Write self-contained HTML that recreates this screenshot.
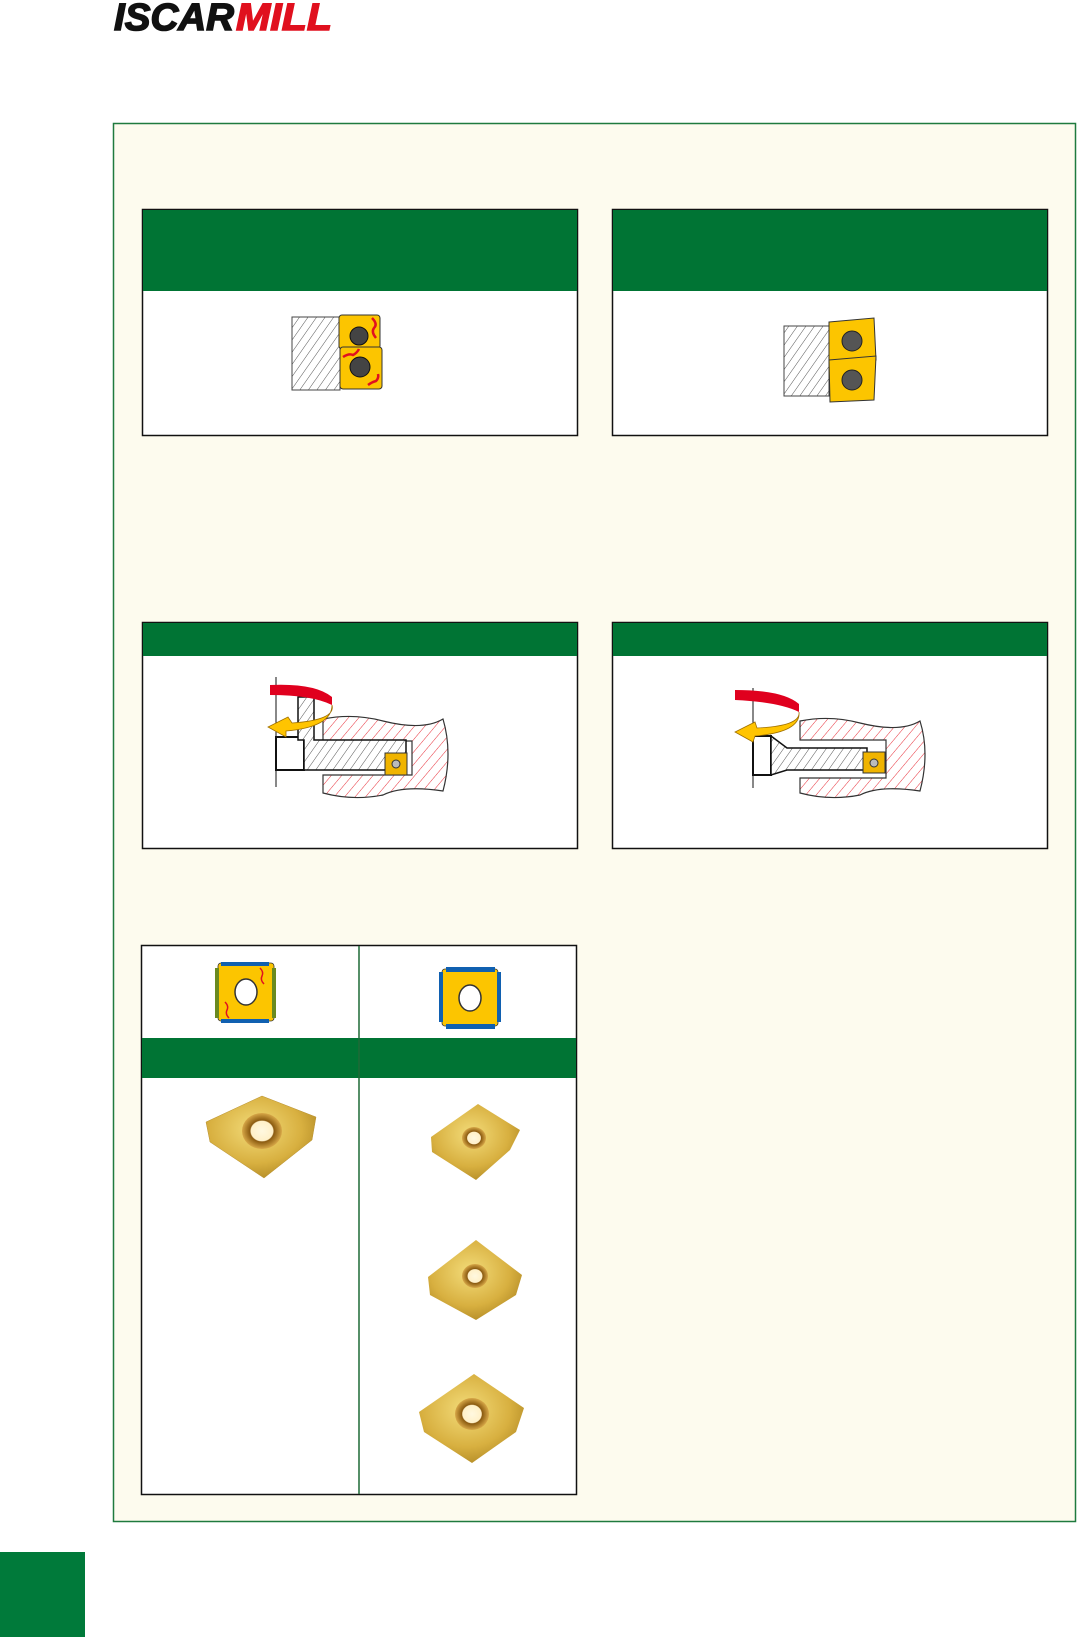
<!DOCTYPE html>
<html><head><meta charset="utf-8"><style>
html,body{margin:0;padding:0;background:#fff;}
svg{display:block;}
</style></head><body>
<svg width="1077" height="1637" viewBox="0 0 1077 1637" xmlns="http://www.w3.org/2000/svg">
<defs>
<pattern id="hk" width="7" height="7" patternUnits="userSpaceOnUse" patternTransform="rotate(35)">
<rect width="7" height="7" fill="#fff"/><line x1="0" y1="0" x2="0" y2="7" stroke="#555" stroke-width="1"/></pattern>
<pattern id="hr" width="8" height="8" patternUnits="userSpaceOnUse" patternTransform="rotate(40)">
<rect width="8" height="8" fill="#fff"/><line x1="0" y1="0" x2="0" y2="8" stroke="#e8303a" stroke-width="1"/></pattern>
<radialGradient id="gold" cx="0.45" cy="0.4" r="0.7">
<stop offset="0" stop-color="#f3dc7a"/><stop offset="0.6" stop-color="#d8b040"/><stop offset="1" stop-color="#a8801e"/></radialGradient>
<radialGradient id="hole" cx="0.5" cy="0.5" r="0.5">
<stop offset="0" stop-color="#fff8e0"/><stop offset="0.55" stop-color="#fff0c8"/><stop offset="0.6" stop-color="#8a5a10"/><stop offset="1" stop-color="#d8a848"/></radialGradient>
</defs>

<!-- logo -->
<text x="114" y="30" font-family="Liberation Sans, sans-serif" font-weight="bold" font-style="italic" font-size="38" fill="#111" stroke="#111" stroke-width="1.5" textLength="120" lengthAdjust="spacingAndGlyphs">ISCAR</text>
<text x="236" y="30" font-family="Liberation Sans, sans-serif" font-weight="bold" font-style="italic" font-size="38" fill="#e0101e" stroke="#e0101e" stroke-width="1.5" textLength="96" lengthAdjust="spacingAndGlyphs">MILL</text>

<!-- outer box -->
<rect x="113.5" y="123.5" width="962" height="1398" fill="#fdfbee" stroke="#1f7a3e" stroke-width="1.5"/>

<!-- box1 -->
<rect x="142.5" y="209.5" width="435" height="226" fill="#fff" stroke="#111" stroke-width="1.5"/>
<rect x="143" y="210" width="434" height="81" fill="#007434"/>
<rect x="292" y="317" width="48" height="73" fill="url(#hk)" stroke="#444" stroke-width="1"/>
<rect x="339" y="315" width="41" height="34" rx="3" fill="#fcc500" stroke="#333" stroke-width="1"/>
<rect x="340" y="347" width="42" height="42" rx="3" fill="#fcc500" stroke="#333" stroke-width="1"/>
<circle cx="359" cy="336" r="9" fill="#444" stroke="#111"/><circle cx="360" cy="367" r="10" fill="#444" stroke="#111"/>
<path d="M372 318 q6 6 2 10 q-3 4 2 10" stroke="#e01020" stroke-width="2.5" fill="none"/>
<path d="M343 357 q6 -4 10 -2 q4 -2 6 -6" stroke="#e01020" stroke-width="2.5" fill="none"/>
<path d="M368 385 q4 -3 8 -4 q3 -3 2 -7" stroke="#e01020" stroke-width="2.5" fill="none"/>

<!-- box2 -->
<rect x="612.5" y="209.5" width="435" height="226" fill="#fff" stroke="#111" stroke-width="1.5"/>
<rect x="613" y="210" width="434" height="81" fill="#007434"/>
<rect x="784" y="326" width="45" height="70" fill="url(#hk)" stroke="#444" stroke-width="1"/>
<polygon points="829,322 874,318 876,360 829,364" fill="#fcc500" stroke="#333"/>
<polygon points="829,360 876,356 874,400 830,402" fill="#fcc500" stroke="#333"/>
<circle cx="852" cy="341" r="10" fill="#555" stroke="#222"/><circle cx="852" cy="380" r="10" fill="#555" stroke="#222"/>

<!-- box3 -->
<rect x="142.5" y="622.5" width="435" height="226" fill="#fff" stroke="#111" stroke-width="1.5"/>
<rect x="143" y="623" width="434" height="33" fill="#007434"/>
<path d="M323 719 q30 -6 60 2 q40 10 60 -2 q10 34 0 72 q-40 -6 -60 4 q-30 6 -60 -2 L323 775 L412 775 L412 741 L323 741 Z" fill="url(#hr)" stroke="#333" stroke-width="1.2"/>
<rect x="276" y="737" width="28" height="33" fill="#fff" stroke="#111" stroke-width="2"/>
<path d="M298 697 h16 v43 h92 v30 h-102 v-30 h-6 z" fill="url(#hk)" stroke="#111" stroke-width="1.5"/>
<rect x="385" y="753" width="22" height="22" fill="#f0b400" stroke="#333"/>
<circle cx="396" cy="764" r="4" fill="#bbb" stroke="#333"/>
<line x1="276" y1="677" x2="276" y2="787" stroke="#111"/>
<path d="M270 685 q45 -2 62 12 l0 8 q-20 -10 -62 -10 z" fill="#e0001e"/>
<path d="M332 705 q4 15 -40 18 l-4 -6 l-20 10 l18 10 l0 -6 q46 -4 46 -26 z" fill="#ffc400" stroke="#a07000" stroke-width="0.8"/>

<!-- box4 -->
<rect x="612.5" y="622.5" width="435" height="226" fill="#fff" stroke="#111" stroke-width="1.5"/>
<rect x="613" y="623" width="434" height="33" fill="#007434"/>
<path d="M800 721 q30 -6 60 2 q40 10 60 -2 q10 32 0 70 q-40 -6 -60 4 q-30 6 -60 -2 L800 778 L886 778 L886 740 L800 740 Z" fill="url(#hr)" stroke="#333" stroke-width="1.2"/>
<rect x="753" y="736" width="18" height="39" fill="#fff" stroke="#111" stroke-width="2"/>
<path d="M771 736 l16 12 h80 v22 h-80 l-16 5 z" fill="url(#hk)" stroke="#111" stroke-width="1.5"/>
<rect x="863" y="752" width="22" height="21" fill="#f0b400" stroke="#333"/>
<circle cx="874" cy="763" r="4" fill="#bbb" stroke="#333"/>
<line x1="753" y1="688" x2="753" y2="788" stroke="#111"/>
<path d="M735 690 q48 0 64 14 l0 8 q-20 -10 -64 -12 z" fill="#e0001e"/>
<path d="M799 712 q2 14 -42 16 l-2 -6 l-20 10 l18 10 l2 -6 q46 -4 44 -24 z" fill="#ffc400" stroke="#a07000" stroke-width="0.8"/>

<!-- table -->
<rect x="141.5" y="945.5" width="435" height="549" fill="#fff" stroke="#111" stroke-width="1.5"/>
<rect x="142" y="1038" width="434" height="40" fill="#007434"/>
<line x1="359" y1="946" x2="359" y2="1494" stroke="#1f6a36" stroke-width="1.5"/>
<!-- icon1 -->
<rect x="218" y="963" width="56" height="58" rx="3" fill="#fcc500" stroke="#333" stroke-width="0.8"/>
<rect x="221" y="962" width="48" height="4" fill="#1060b0"/><rect x="221" y="1019" width="48" height="4" fill="#1060b0"/>
<rect x="215" y="968" width="4" height="50" fill="#6a8a20"/><rect x="272" y="968" width="4" height="50" fill="#6a8a20"/>
<ellipse cx="246" cy="992" rx="11" ry="13" fill="#fff" stroke="#333" stroke-width="1.5"/>
<path d="M260 968 q4 4 2 8 q-2 4 2 8" stroke="#e01020" stroke-width="1.5" fill="none"/>
<path d="M225 1002 q4 4 2 8 q-2 4 2 8" stroke="#e01020" stroke-width="1.5" fill="none"/>
<!-- icon2 -->
<rect x="442" y="969" width="56" height="57" rx="3" fill="#fcc500" stroke="#333" stroke-width="0.8"/>
<rect x="446" y="967" width="49" height="5" fill="#1060b0"/><rect x="446" y="1024" width="49" height="5" fill="#1060b0"/>
<rect x="439" y="972" width="4" height="50" fill="#1060b0"/><rect x="497" y="972" width="4" height="50" fill="#1060b0"/>
<ellipse cx="470" cy="998" rx="11" ry="13" fill="#fff" stroke="#333" stroke-width="1.5"/>
<!-- photos -->
<polygon points="206,1122 262,1096 316,1117 312,1140 264,1178 210,1142" fill="url(#gold)" stroke="#b89030" stroke-width="0.5"/>
<ellipse cx="262" cy="1131" rx="20" ry="18" fill="url(#hole)"/>
<polygon points="431,1137 478,1104 520,1130 510,1150 476,1180 432,1152" fill="url(#gold)"/>
<ellipse cx="474" cy="1138" rx="12" ry="11" fill="url(#hole)"/>
<polygon points="428,1277 476,1240 522,1275 516,1295 476,1320 430,1295" fill="url(#gold)"/>
<ellipse cx="475" cy="1276" rx="13" ry="12" fill="url(#hole)"/>
<polygon points="419,1412 474,1374 524,1408 516,1432 472,1463 424,1432" fill="url(#gold)"/>
<ellipse cx="472" cy="1414" rx="17" ry="16" fill="url(#hole)"/>

<!-- bottom tab -->
<rect x="0" y="1552" width="85" height="85" fill="#007a3a"/>
</svg>
</body></html>
